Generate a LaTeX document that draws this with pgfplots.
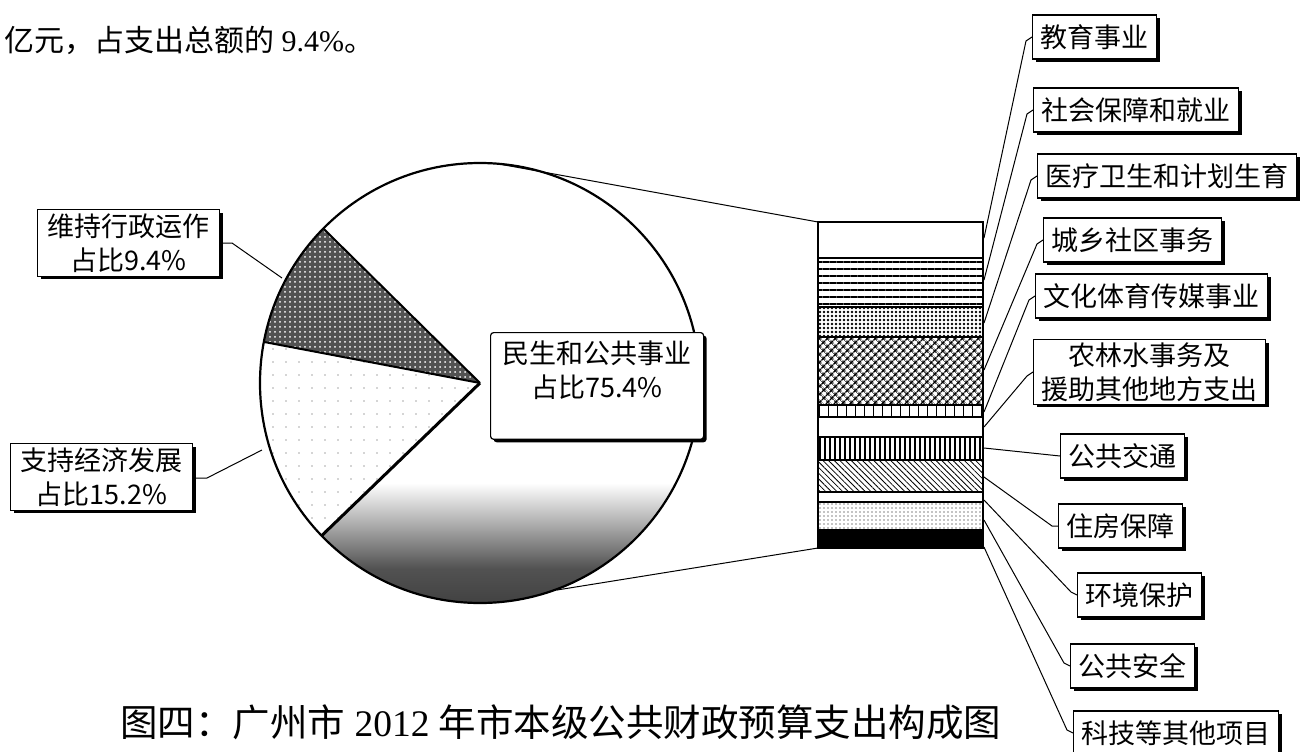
\documentclass[border=0pt]{standalone}
\usepackage{fontspec}
\setmainfont{Liberation Serif}
\newfontfamily\cjk{Noto Sans CJK SC}
\usepackage{pgfplots}
\pgfplotsset{compat=1.18}
\usetikzlibrary{patterns,patterns.meta,shadows}

% shading of the big slice: dark at the bottom, white from the middle up
\pgfdeclareverticalshading{pieshade}{100bp}{color(0bp)=(black!78); color(25bp)=(black!78);
  color(31bp)=(black!68); color(36bp)=(black!30); color(40bp)=(white); color(100bp)=(white)}

% pie shares in percent
\def\pWei{9.4}
\def\pZhi{15.2}
\def\pMin{75.4}
\pgfmathsetmacro\aA{135.4}
\pgfmathsetmacro\aB{\aA+3.6*\pWei}
\pgfmathsetmacro\aC{\aB+3.6*\pZhi}
\pgfmathsetmacro\aD{\aC+3.6*\pMin}

\tikzset{
  lbl/.style={draw, line width=1.2bp, fill=white, inner xsep=8bp, inner ysep=4bp,
    minimum height=44bp, align=center,
    font=\fontsize{27bp}{34bp}\selectfont\cjk,
    drop shadow={shadow xshift=3bp, shadow yshift=-3bp, opacity=1, fill=black}},
  lead/.style={line width=1bp},
}

\begin{document}
\begin{tikzpicture}
\begin{axis}[at={(0,0)}, anchor=south west, scale only axis,
  width=1301bp, height=752bp, xmin=0, xmax=1301, ymin=0, ymax=752,
  y dir=reverse, hide axis, clip=false]

% slices
\fill[shading=pieshade] (axis cs:480,383) -- ++(\aC:220bp)
  arc[start angle=\aC, end angle=\aD, radius=220bp] -- cycle;
\fill[white] (axis cs:480,383) -- ++(\aB:220bp)
  arc[start angle=\aB, end angle=\aC, radius=220bp] -- cycle;
\fill[pattern={Dots[distance=13bp,radius=0.7bp]}, pattern color=black!70]
  (axis cs:480,383) -- ++(\aB:220bp)
  arc[start angle=\aB, end angle=\aC, radius=220bp] -- cycle;
\fill[black!68, postaction={pattern={Dots[distance=5bp,radius=1bp]}, pattern color=white}]
  (axis cs:480,383) -- ++(\aA:220bp)
  arc[start angle=\aA, end angle=\aB, radius=220bp] -- cycle;

% outlines
\draw[line width=2.2bp] (axis cs:480,383) circle[radius=220bp];
\draw[line width=2bp] (axis cs:480,383) -- ++(\aA:220bp);
\draw[line width=2bp] (axis cs:480,383) -- ++(\aB:220bp);
\draw[line width=3bp] (axis cs:480,383) -- ++(\aC:220bp);

% pie to bar
\draw[lead] (axis cs:499,164) -- (axis cs:818,222);
\draw[lead] (axis cs:557,590) -- (axis cs:818,548);

% pie labels
\node[lbl, anchor=west, inner xsep=10bp] at (axis cs:37,243) {维持行政运作\\占比9.4\%};
\draw[lead] (axis cs:222,243) -- (axis cs:232,243) -- (axis cs:282,278);
\node[lbl, anchor=west, inner xsep=10bp] at (axis cs:10,477) {支持经济发展\\占比15.2\%};
\draw[lead] (axis cs:193,478) -- (axis cs:207,478) -- (axis cs:262,450);
\node[lbl, anchor=north west, rounded corners=3bp, inner xsep=12bp, inner ysep=8bp]
  at (axis cs:490,332) {民生和公共事业\\占比75.4\%\\\mbox{}};

% bar labels
\node[lbl, anchor=west] at (axis cs:1032,37) {教育事业};
\draw[lead] (axis cs:984,238) -- (axis cs:1026,41) -- (axis cs:1032,37);
\node[lbl, anchor=west] at (axis cs:1033,110) {社会保障和就业};
\draw[lead] (axis cs:984,280) -- (axis cs:1027,114) -- (axis cs:1033,110);
\node[lbl, anchor=west] at (axis cs:1037,176) {医疗卫生和计划生育};
\draw[lead] (axis cs:984,323) -- (axis cs:1031,180) -- (axis cs:1037,176);
\node[lbl, anchor=west] at (axis cs:1043,240) {城乡社区事务};
\draw[lead] (axis cs:984,370) -- (axis cs:1037,244) -- (axis cs:1043,240);
\node[lbl, anchor=west] at (axis cs:1035,296) {文化体育传媒事业};
\draw[lead] (axis cs:984,412) -- (axis cs:1029,300) -- (axis cs:1035,296);
\node[lbl, anchor=west, inner ysep=3bp] at (axis cs:1033,372) {农林水事务及\\援助其他地方支出};
\draw[lead] (axis cs:984,427) -- (axis cs:1027,376) -- (axis cs:1033,372);
\node[lbl, anchor=west] at (axis cs:1060,456) {公共交通};
\draw[lead] (axis cs:984,448) -- (axis cs:1060,456);
\node[lbl, anchor=west] at (axis cs:1058,526) {住房保障};
\draw[lead] (axis cs:984,477) -- (axis cs:1052,526) -- (axis cs:1058,526);
\node[lbl, anchor=west] at (axis cs:1077,595) {环境保护};
\draw[lead] (axis cs:984,500) -- (axis cs:1071,592) -- (axis cs:1077,595);
\node[lbl, anchor=west] at (axis cs:1070,666) {公共安全};
\draw[lead] (axis cs:984,520) -- (axis cs:1064,663) -- (axis cs:1070,666);
\node[lbl, anchor=west] at (axis cs:1073,733) {科技等其他项目};
\draw[lead] (axis cs:984,547) -- (axis cs:1067,730) -- (axis cs:1073,733);

% text above and caption
\node[anchor=west, inner sep=0pt, font=\fontsize{30bp}{36bp}\selectfont]
  at (axis cs:4,40) {{\cjk 亿元，占支出总额的} 9.4\%{\cjk 。}};
\node[anchor=west, inner sep=0pt, font=\fontsize{37.5bp}{44bp}\selectfont]
  at (axis cs:120,722) {{\cjk 图四：广州市} 2012 {\cjk 年市本级公共财政预算支出构成图}};
\end{axis}

% breakdown of the big slice, bottom to top
\begin{axis}[at={(818bp,204bp)}, anchor=south west, scale only axis,
  width=165bp, height=326bp, xmin=-0.5, xmax=0.5, ymin=0, ymax=326,
  hide axis, clip=false, ybar stacked, bar width=165bp,
  every axis plot/.append style={draw=black, line width=1.5bp}]
\addplot[fill=black] coordinates {(0,18)};                                              % 科技等其他项目
\addplot[pattern={Dots[distance=4bp,radius=0.7bp]}] coordinates {(0,28)};               % 公共安全
\addplot[fill=white] coordinates {(0,10)};                                              % 环境保护
\addplot[pattern={Lines[angle=-45,distance=4bp,line width=0.8bp]}] coordinates {(0,32)}; % 住房保障
\addplot[pattern={Lines[angle=90,distance=5bp,line width=1.4bp]}] coordinates {(0,23)};  % 公共交通
\addplot[fill=white] coordinates {(0,20)};                                              % 农林水事务
\addplot[pattern={Lines[angle=90,distance=9bp,line width=1bp]}] coordinates {(0,12)};   % 文化体育传媒
\addplot[pattern={Hatch[angle=45,distance=6bp,line width=1.6bp]}] coordinates {(0,68)}; % 城乡社区事务
\addplot[pattern={Dots[distance=4bp,radius=1.4bp]}] coordinates {(0,30)};               % 医疗卫生
\addplot[pattern={Lines[angle=0,distance=7bp,line width=1.5bp]}] coordinates {(0,49)};  % 社会保障和就业
\addplot[fill=white] coordinates {(0,36)};                                              % 教育事业
\end{axis}

\pgfresetboundingbox
\path[use as bounding box] (0,0) rectangle (1301bp,752bp);
\end{tikzpicture}
\end{document}
